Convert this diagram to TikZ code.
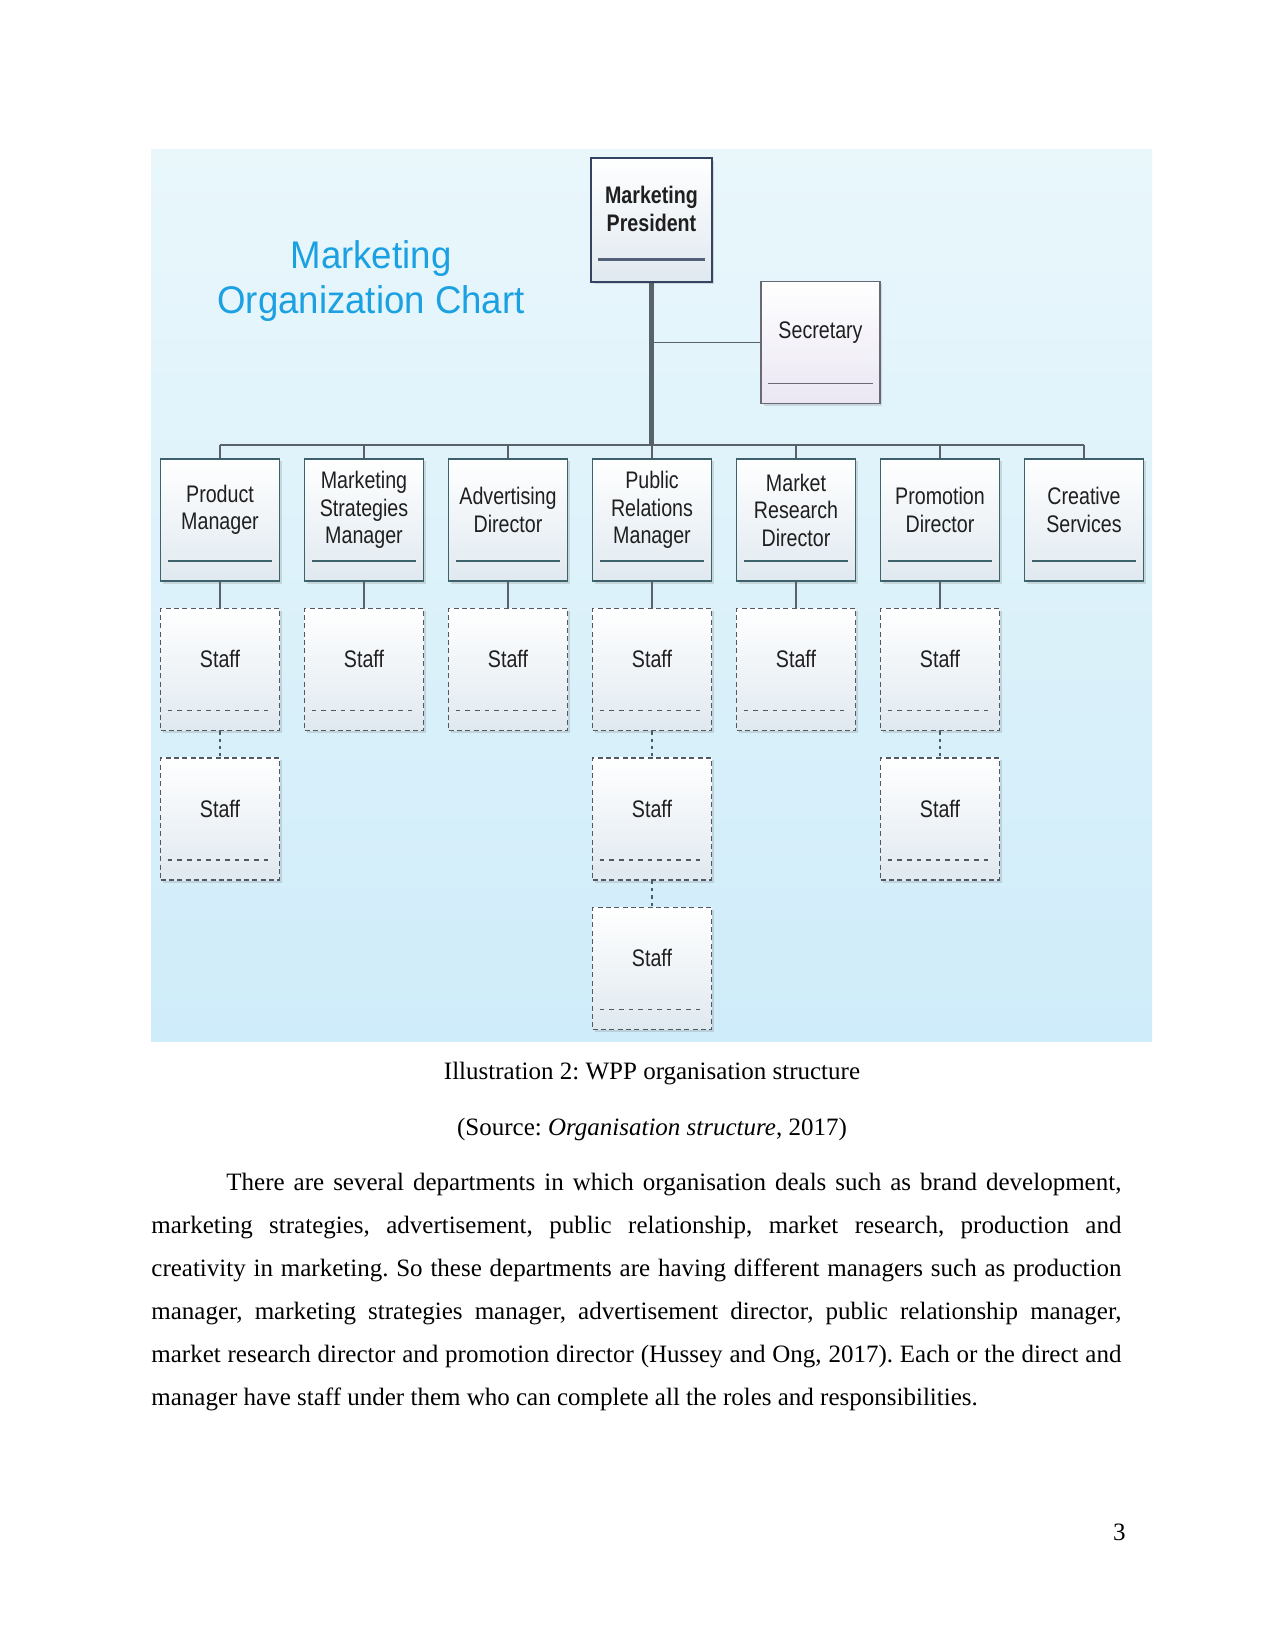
\documentclass[tikz,border=0pt]{standalone}
\usepackage{fontspec}
\setmainfont{Liberation Serif}
\newfontfamily\chartfont[FakeStretch=0.82]{Liberation Sans}
\newfontfamily\titlefont[FakeStretch=0.95]{Liberation Sans}
\usepackage{tikz}
\usetikzlibrary{positioning, shadows, calc}
\definecolor{bgtop}{RGB}{233, 247, 251}
\definecolor{bgbot}{RGB}{207, 236, 250}
\definecolor{titleblue}{RGB}{27, 161, 226}
\definecolor{mgrline}{RGB}{62, 98, 108}
\definecolor{presline}{RGB}{52, 68, 96}
\definecolor{secline}{RGB}{105, 105, 115}
\definecolor{staffline}{RGB}{80, 90, 100}
\definecolor{linkgray}{RGB}{88, 98, 104}
\definecolor{boxbot}{RGB}{224, 233, 240}
\definecolor{secbot}{RGB}{234, 230, 243}
\newcommand{\boxtext}[2][9.6pt]{\parbox[c][58.6pt][c]{57.1pt}{\centering #2\par\vspace{#1}}}
\frenchspacing

\begin{document}
\begin{tikzpicture}[x=0.48pt, y=-0.48pt,
    boxfont/.style={font=\chartfont\fontsize{11.5}{13.2}\selectfont, text=black!88},
    divider/.style={path picture={\draw[#1]
        ([xshift=3.5pt, yshift=9.6pt]path picture bounding box.south west) --
        ([xshift=-3.5pt, yshift=9.6pt]path picture bounding box.south east);}},
    mgrbox/.style={boxfont, draw=mgrline, line width=0.9pt, inner sep=0pt,
        minimum width=57.1pt, minimum height=58.6pt,
        top color=white, bottom color=boxbot,
        drop shadow={shadow xshift=1.2pt, shadow yshift=-1.2pt, opacity=0.25},
        divider={mgrline, line width=0.8pt}},
    presbox/.style={mgrbox, draw=presline, line width=1.2pt, minimum width=58pt,
        minimum height=59.5pt, font=\chartfont\bfseries\fontsize{11.5}{13.2}\selectfont,
        path picture={\draw[presline!85, line width=1.5pt]
        ([xshift=3.5pt, yshift=10.6pt]path picture bounding box.south west) --
        ([xshift=-3.5pt, yshift=10.6pt]path picture bounding box.south east);}},
    secbox/.style={mgrbox, draw=secline, bottom color=secbot,
        divider={secline, line width=0.8pt}},
    staffbox/.style={mgrbox, draw=staffline, line width=0.8pt,
        dash pattern=on 2.4pt off 1.6pt,
        divider={staffline, line width=0.8pt, dash pattern=on 2.2pt off 2.4pt}},
    trunk/.style={draw=linkgray, line width=2pt},
    busline/.style={draw=linkgray, line width=1pt},
    solidlink/.style={draw=linkgray, line width=0.8pt},
    dashlink/.style={draw=staffline, line width=0.8pt, dash pattern=on 1.5pt off 2pt},
    bodytext/.style={font=\fontsize{12}{20.64}\selectfont, inner sep=0pt}]
  \useasboundingbox (0,0) rectangle (1275,1650);

  % chart background
  \fill[top color=bgtop, bottom color=bgbot] (151,150) rectangle (1152,1041);

  % title
  \node[font=\titlefont\fontsize{18.5}{22}\selectfont, text=titleblue, align=center]
    (title) at (371,281) {Marketing\\Organization Chart};

  % president and secretary
  \node[presbox] (pres) at (651.5,220) {\boxtext[10.6pt]{Marketing\\President}};
  \node[secbox] (sec) at (820.5,342.5) {\boxtext{Secretary}};

  % managers
  \foreach \txt/\idx in {{Product\\Manager}/1, {Marketing\\Strategies\\Manager}/2,
      {Advertising\\Director}/3, {Public\\Relations\\Manager}/4,
      {Market\\Research\\Director}/5, {Promotion\\Director}/6, {Creative\\Services}/7}{
    \node[mgrbox] (m\idx) at ({76+144*\idx}, 520) {\boxtext{\txt}};
  }

  % staff
  \foreach \col/\n in {1/2, 2/1, 3/1, 4/3, 5/1, 6/2}{
    \foreach \row in {1,...,\n}{
      \node[staffbox] (s\col\row) at ({76+144*\col}, {520+149.5*\row}) {\boxtext[10pt]{Staff}};
    }
  }

  % connectors
  \coordinate (bus) at (652,445);
  \draw[trunk] (pres) -- (pres |- bus);
  \draw[solidlink] (pres |- sec) -- (sec);
  \draw[busline] (m1 |- bus) -- (m7 |- bus);
  \foreach \idx in {1,...,7}
    \draw[busline] (m\idx |- bus) -- (m\idx);
  \foreach \col in {1,...,6}
    \draw[solidlink] (m\col) -- (s\col1);
  \foreach \col/\row in {1/2, 4/2, 4/3, 6/2}{
    \pgfmathtruncatemacro{\prev}{\row-1}
    \draw[dashlink] (s\col\prev) -- (s\col\row);
  }

  % caption and text
  \node[bodytext, anchor=base] (cap) at (652,1079) {Illustration 2: WPP organisation structure};
  \node[bodytext, anchor=base] (src) at (652,1135) {(Source: \textit{Organisation structure}, 2017)};
  \node[bodytext, anchor=base west, text width=465.6pt, align=justify] (para) at (151,1190)
    {\hspace*{36pt}There are several departments in which organisation deals such as brand development,\linebreak
    marketing strategies, advertisement, public relationship, market research, production and\linebreak
    creativity in marketing. So these departments are having different managers such as production\linebreak
    manager, marketing strategies manager, advertisement director, public relationship manager,\linebreak
    market research director and promotion director (Hussey and Ong, 2017). Each or the direct and\linebreak
    manager have staff under them who can complete all the roles and responsibilities.};
  \node[bodytext, anchor=base east] (pgno) at (1126,1540) {3};
\end{tikzpicture}
\end{document}
